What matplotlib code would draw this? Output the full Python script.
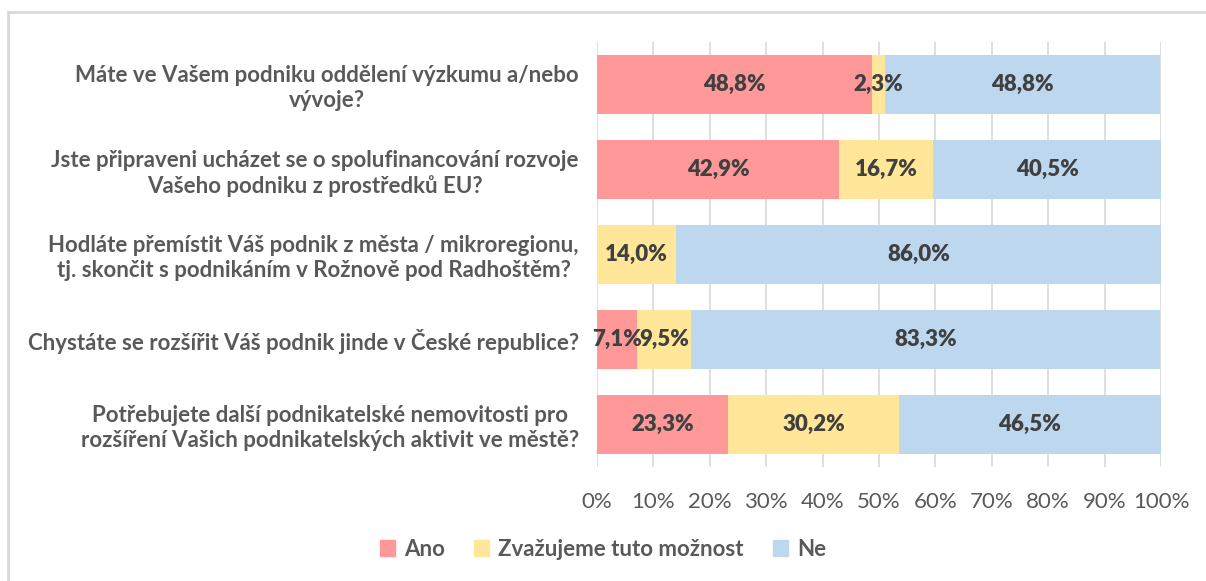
import matplotlib
matplotlib.use('Agg')
import matplotlib.pyplot as plt
from matplotlib.patches import Rectangle

questions = [
    'Máte ve Vašem podniku oddělení výzkumu a/nebo\nvývoje?',
    'Jste připraveni ucházet se o spolufinancování rozvoje\nVašeho podniku z prostředků EU?',
    'Hodláte přemístit Váš podnik z města / mikroregionu,\ntj. skončit s podnikáním v Rožnově pod Radhoštěm?',
    'Chystáte se rozšířit Váš podnik jinde v České republice?',
    'Potřebujete další podnikatelské nemovitosti pro\nrozšíření Vašich podnikatelských aktivit ve městě?',
]
series_names = ['Ano', 'Zvažujeme tuto možnost', 'Ne']
ano = [48.8, 42.9, 0.0, 7.1, 23.3]
zvazujeme = [2.3, 16.7, 14.0, 9.5, 30.2]
ne = [48.8, 40.5, 86.0, 83.3, 46.5]
colors = ['#FF9999', '#FFE699', '#BDD7EE']
x_ticks = list(range(0, 101, 10))

plt.rcParams['font.family'] = ['Lato', 'DejaVu Sans']
text_col = '#595959'
val_col = '#404040'
fs = 16

fig = plt.figure(figsize=(12.06, 5.81), dpi=100)
ax = fig.add_axes([597 / 1206, 1 - 467 / 581, 564 / 1206, 425 / 581])

# outer frame
fig.patches.append(Rectangle((8 / 1206, -0.05), 1.1, 1 - 12 / 581 + 0.05,
                             transform=fig.transFigure, fill=False,
                             edgecolor='#D9D9D9', linewidth=2))

ypos = list(range(len(questions)))
left = [0.0] * len(questions)
for vals, name, col in zip([ano, zvazujeme, ne], series_names, colors):
    bars = ax.barh(ypos, vals, left=left, height=0.7, color=col, label=name, zorder=2)
    for b, v in zip(bars, vals):
        if v > 0:
            ax.text(b.get_x() + b.get_width() / 2, b.get_y() + b.get_height() / 2,
                    f'{v:.1f}%'.replace('.', ','), ha='center', va='center',
                    fontsize=fs, fontweight='heavy', color=val_col, zorder=3)
    left = [l + v for l, v in zip(left, vals)]

ax.set_xlim(0, 100)
ax.set_ylim(len(questions) - 0.5, -0.5)
ax.set_xticks(x_ticks)
ax.set_xticklabels([f'{t}%' for t in x_ticks], fontsize=fs, color=text_col)
ax.set_yticks(ypos)
ax.set_yticklabels(questions, fontsize=fs, fontweight='bold', color=text_col,
                   ha='right', multialignment='center')
ax.tick_params(axis='y', length=0, pad=13)
ax.tick_params(axis='x', length=0, pad=18)
ax.grid(axis='x', color='#D9D9D9', linewidth=1.2, zorder=0)
for s in ax.spines.values():
    s.set_visible(False)

handles = [Rectangle((0, 0), 1, 1, color=c) for c in colors]
fig.legend(handles, series_names, loc='center', bbox_to_anchor=(0.5, 1 - 549 / 581),
           ncol=3, frameon=False, handlelength=0.7, handleheight=0.7,
           columnspacing=1.3, handletextpad=0.4, labelcolor=text_col,
           prop={'weight': 'bold', 'size': fs})

fig.savefig('out.png', dpi=100)
